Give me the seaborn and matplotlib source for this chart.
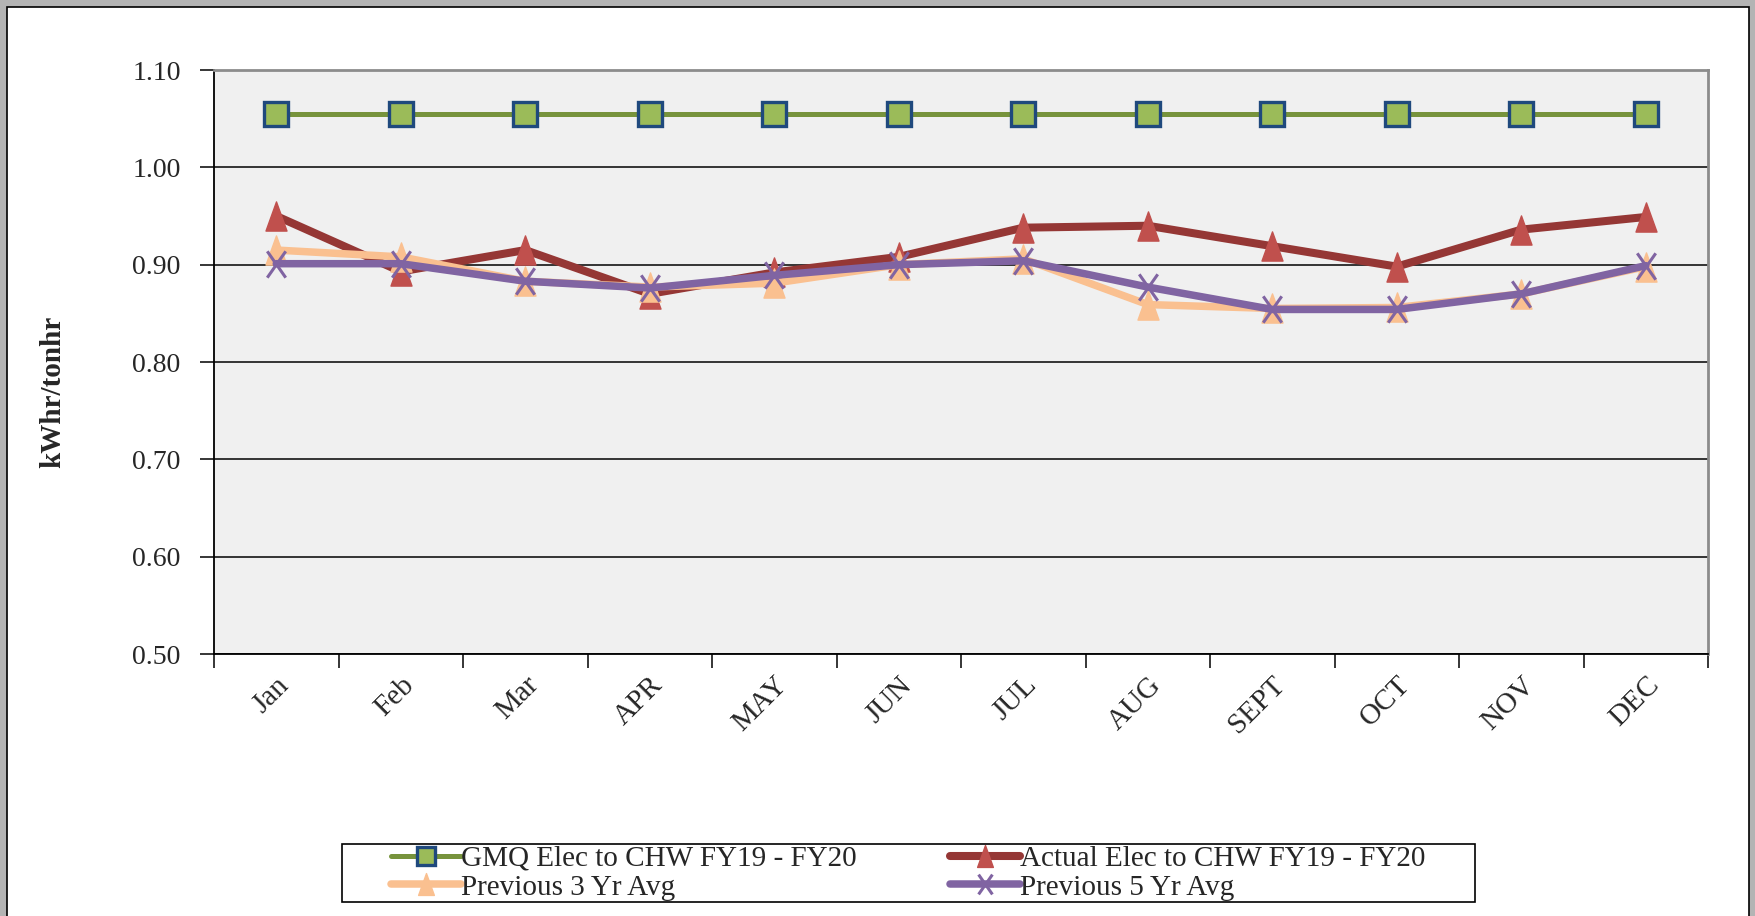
import matplotlib
matplotlib.use("Agg")
import matplotlib.pyplot as plt
import matplotlib.patches as mpatches
from matplotlib.path import Path
import pandas as pd
import seaborn as sns

months = ["Jan", "Feb", "Mar", "APR", "MAY", "JUN", "JUL", "AUG", "SEPT", "OCT", "NOV", "DEC"]
gmq = [1.055] * 12
actual = [0.950, 0.893, 0.915, 0.870, 0.892, 0.908, 0.938, 0.940, 0.919, 0.898, 0.936, 0.949]
prev3 = [0.915, 0.908, 0.883, 0.877, 0.881, 0.900, 0.906, 0.859, 0.855, 0.856, 0.870, 0.898]
prev5 = [0.901, 0.901, 0.883, 0.876, 0.889, 0.900, 0.904, 0.877, 0.854, 0.854, 0.870, 0.899]
y_ticks = [0.50, 0.60, 0.70, 0.80, 0.90, 1.00, 1.10]

# Excel-ish markers: triangles and crosses are taller than wide
tri = Path([(0, 1), (-0.72, -1), (0.72, -1), (0, 1)],
           [Path.MOVETO, Path.LINETO, Path.LINETO, Path.CLOSEPOLY])
cross = Path([(-0.7, -1), (0.7, 1), (-0.7, 1), (0.7, -1)],
             [Path.MOVETO, Path.LINETO, Path.MOVETO, Path.LINETO])

series = [
    ("GMQ Elec to CHW FY19 - FY20", gmq,
     dict(color="#77933c", lw=3.6, marker="s", ms=17.5, mfc="#9bbb59", mec="#1f497d", mew=2.4)),
    ("Actual Elec to CHW FY19 - FY20", actual,
     dict(color="#953735", lw=5.8, marker=tri, ms=21, mfc="#c0504d", mec="#c0504d", mew=1)),
    ("Previous 3 Yr Avg", prev3,
     dict(color="#fac090", lw=5.4, marker=tri, ms=21, mfc="#fac090", mec="#fac090", mew=1)),
    ("Previous 5 Yr Avg", prev5,
     dict(color="#8064a2", lw=5.4, marker=cross, ms=19, mfc="none", mec="#8064a2", mew=2.2)),
]

sns.set_theme(style="white")
plt.rcParams["font.family"] = ["Liberation Serif", "DejaVu Serif"]

fig = plt.figure(figsize=(17.55, 9.16), dpi=100)
fig.patch.set_facecolor("#b4b4b4")
fig.add_artist(mpatches.Rectangle((7 / 1755, -0.05), 1742 / 1755, 1.05 - 7 / 916,
                                  transform=fig.transFigure, facecolor="white",
                                  edgecolor="black", lw=1.2, zorder=0))

ax = fig.add_axes([214 / 1755, 1 - 654 / 916, 1494 / 1755, 584 / 916])
ax.set_facecolor("#f0f0f0")
x = list(range(len(months)))
for name, vals, st in series:
    df = pd.DataFrame({"x": x, "y": vals})
    sns.lineplot(data=df, x="x", y="y", ax=ax, label=name, legend=False,
                 color=st["color"], linewidth=st["lw"], marker=st["marker"],
                 markersize=st["ms"], markerfacecolor=st["mfc"],
                 markeredgecolor=st["mec"], markeredgewidth=st["mew"])

ax.set_xlim(-0.5, 11.5)
ax.set_ylim(0.50, 1.10)
ax.set_yticks(y_ticks)
ax.set_yticklabels([f"{v:.2f}" for v in y_ticks], fontsize=20)
ax.yaxis.grid(True, color="black", lw=1.1)
ax.set_axisbelow(True)

ax.set_xticks([i - 0.5 for i in range(13)])
ax.set_xticklabels([])
ax.set_xticks(x, minor=True)
ax.set_xticklabels(months, minor=True, rotation=45, ha="right", va="top",
                   rotation_mode="anchor", fontsize=21)
ax.tick_params(axis="x", which="major", direction="out", length=10, width=1.1, color="black", bottom=True)
ax.tick_params(axis="x", which="minor", length=0, pad=13)
ax.tick_params(axis="y", direction="out", length=10, width=1.1, color="black", left=True, pad=14)
ax.set_xlabel("")
ax.set_ylabel("")

for side in ["left", "bottom"]:
    ax.spines[side].set_color("black")
    ax.spines[side].set_linewidth(1.3)
for side in ["top", "right"]:
    ax.spines[side].set_color("#8c8c8c")
    ax.spines[side].set_linewidth(2)

fig.text(53 / 1755, 1 - 392 / 916, "kWhr/tonhr", rotation=90, ha="center", va="center",
         fontsize=21, fontweight="bold")

# legend box drawn separately so the entries can sit tight inside it
fig.add_artist(mpatches.Rectangle((342 / 1755, 1 - 902 / 916), 1133 / 1755, 58 / 916,
                                  transform=fig.transFigure, facecolor="white",
                                  edgecolor="black", lw=1.2, zorder=1))
handles, labels = ax.get_legend_handles_labels()
order = [0, 2, 1, 3]  # fill row by row like Excel
leg = fig.legend([handles[i] for i in order], [labels[i] for i in order], ncol=2,
                 loc="center", bbox_to_anchor=((342 + 1133 / 2) / 1755, 1 - 873 / 916),
                 frameon=False, fontsize=21, markerscale=0.75,
                 handlelength=2.4, handletextpad=0.0, labelspacing=0.08,
                 borderpad=0, borderaxespad=0, columnspacing=3.2)
leg.set_zorder(2)

fig.savefig("out.png", dpi=100, facecolor=fig.get_facecolor())
plt.close(fig)
